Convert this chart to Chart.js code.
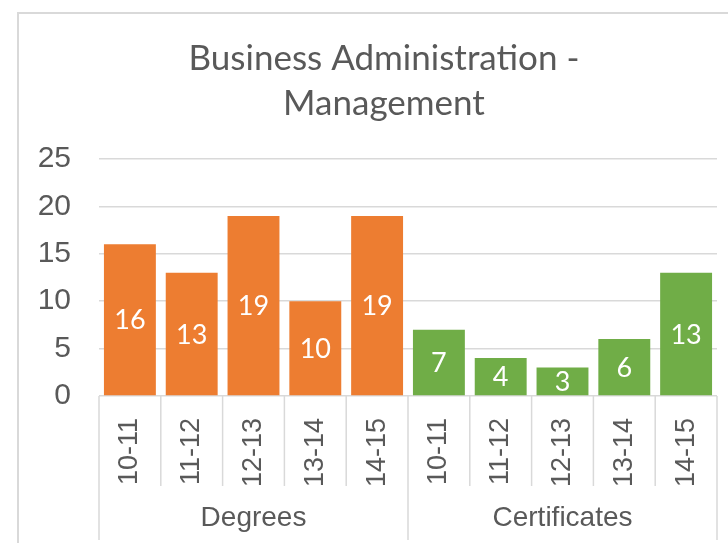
<!DOCTYPE html>
<html>
<head>
<meta charset="utf-8">
<script src="https://cdn.jsdelivr.net/npm/chart.js@4/dist/chart.umd.min.js"></script>
<style>
  html, body { margin: 0; padding: 0; background: #ffffff; }
  #wrap { width: 728px; height: 543px; }
</style>
</head>
<body>
<div id="wrap"><canvas id="c" width="728" height="543"></canvas></div>
<script>
// ---- data ----
const titleLines = ['Business Administration -', 'Management'];
const years = ['10-11', '11-12', '12-13', '13-14', '14-15'];
const groups = ['Degrees', 'Certificates'];
const degrees = [16, 13, 19, 10, 19];
const certificates = [7, 4, 3, 6, 13];
const yTicks = [0, 5, 10, 15, 20, 25];

// ---- derived ----
const labels = years.concat(years);
const nulls = years.map(() => null);
const degreeData = degrees.concat(nulls);
const certData = nulls.concat(certificates);

const GRID = '#D9D9D9';
const TEXT = '#595959';

const borderPlugin = {
  id: 'outerBorder',
  beforeDraw(chart) {
    const ctx = chart.ctx;
    ctx.save();
    ctx.fillStyle = '#ffffff';
    ctx.fillRect(0, 0, chart.width, chart.height);
    ctx.strokeStyle = GRID;
    ctx.lineWidth = 2;
    ctx.strokeRect(18, 13, chart.width + 20, chart.height + 20);
    ctx.restore();
  }
};

const titlePlugin = {
  id: 'excelTitle',
  afterDraw(chart) {
    const ctx = chart.ctx;
    ctx.save();
    ctx.fillStyle = TEXT;
    ctx.font = '35px Lato, "Open Sans", sans-serif';
    ctx.textAlign = 'center';
    ctx.textBaseline = 'middle';
    const cx = 384;
    titleLines.forEach((line, i) => {
      ctx.fillText(line, cx, 59 + i * 45);
    });
    ctx.restore();
  }
};

const groupAxisPlugin = {
  id: 'groupAxis',
  afterDraw(chart) {
    const ctx = chart.ctx;
    const x = chart.scales.x;
    const area = chart.chartArea;
    const n = labels.length;
    const per = years.length;
    const bounds = [];
    for (let i = 0; i <= n; i++) {
      let px;
      if (i === 0) px = x.left;
      else if (i === n) px = x.right;
      else px = (x.getPixelForValue(i - 1) + x.getPixelForValue(i)) / 2;
      bounds.push(px);
    }
    ctx.save();
    ctx.strokeStyle = GRID;
    ctx.lineWidth = 1.5;
    bounds.forEach((px, i) => {
      const major = (i % per === 0);
      ctx.beginPath();
      ctx.moveTo(px, area.bottom);
      ctx.lineTo(px, major ? area.bottom + 144 : area.bottom + 90);
      ctx.stroke();
    });
    ctx.fillStyle = TEXT;
    ctx.font = '28px "Liberation Sans", Arial, sans-serif';
    ctx.textAlign = 'center';
    ctx.textBaseline = 'middle';
    groups.forEach((g, gi) => {
      const cx = (bounds[gi * per] + bounds[(gi + 1) * per]) / 2;
      ctx.fillText(g, cx, area.bottom + 122);
    });
    ctx.restore();
  }
};

const valueLabelPlugin = {
  id: 'valueLabels',
  afterDatasetsDraw(chart) {
    const ctx = chart.ctx;
    ctx.save();
    ctx.fillStyle = '#ffffff';
    ctx.font = '27px Lato, "Open Sans", sans-serif';
    ctx.textAlign = 'center';
    ctx.textBaseline = 'middle';
    chart.data.datasets.forEach((ds, di) => {
      const meta = chart.getDatasetMeta(di);
      meta.data.forEach((el, i) => {
        const v = ds.data[i];
        if (v === null || v === undefined) return;
        ctx.fillText(String(v), el.x, (el.y + el.base) / 2 + 1);
      });
    });
    ctx.restore();
  }
};

new Chart(document.getElementById('c'), {
  type: 'bar',
  data: {
    labels: labels,
    datasets: [
      { label: groups[0], data: degreeData, backgroundColor: '#ED7D31', grouped: false,
        barPercentage: 0.84, categoryPercentage: 1.0 },
      { label: groups[1], data: certData, backgroundColor: '#70AD47', grouped: false,
        barPercentage: 0.84, categoryPercentage: 1.0 }
    ]
  },
  options: {
    responsive: false,
    devicePixelRatio: 1,
    animation: false,
    layout: { padding: { left: 0, right: 11, top: 159, bottom: 0 } },
    plugins: {
      legend: { display: false },
      tooltip: { enabled: false },
      title: { display: false }
    },
    scales: {
      x: {
        type: 'category',
        offset: true,
        grid: { display: false, drawTicks: false },
        border: { display: false },
        ticks: {
          color: TEXT,
          font: { family: '"Liberation Sans", Arial, sans-serif', size: 27 },
          minRotation: 90,
          maxRotation: 90,
          autoSkip: false,
          padding: 22
        },
        afterFit(scale) {
          scale.height = 147;
          scale.paddingLeft = 0;
          scale.paddingRight = 0;
        }
      },
      y: {
        min: 0,
        max: 25,
        afterBuildTicks(scale) { scale.ticks = yTicks.map(v => ({ value: v })); },
        grid: { color: GRID, lineWidth: 1.5, drawTicks: false },
        border: { display: false },
        ticks: {
          color: TEXT,
          font: { family: '"Liberation Sans", Arial, sans-serif', size: 30 },
          padding: 28
        },
        afterFit(scale) {
          scale.width = 99;
          scale.paddingTop = 0;
          scale.paddingBottom = 0;
        }
      }
    }
  },
  plugins: [borderPlugin, titlePlugin, groupAxisPlugin, valueLabelPlugin]
});
</script>
</body>
</html>
